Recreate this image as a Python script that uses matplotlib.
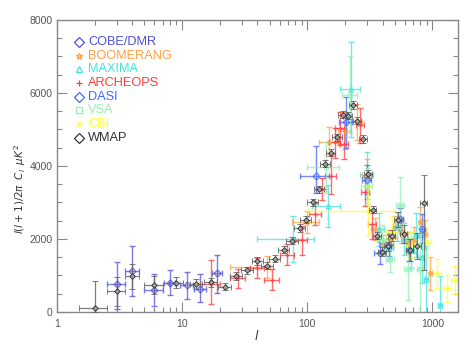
import matplotlib
matplotlib.use('Agg')
import matplotlib.pyplot as plt
from matplotlib.ticker import MultipleLocator, NullFormatter, FixedLocator

plt.rcParams['font.family'] = ['Liberation Sans', 'DejaVu Sans']
plt.rcParams['mathtext.fontset'] = 'dejavusans'

# ---------------- data ----------------
# COBE/DMR
cobe_l = [3, 4, 6, 8, 11, 14, 19]
cobe_v = [756, 1120, 592, 800, 737, 636, 1056]
cobe_ylo = [666, 692, 436, 344, 382, 370, 529]
cobe_yhi = [617, 690, 438, 338, 346, 394, 519]
cobe_xe = [0.5, 0.5, 1.0, 0.8, 1.3, 1.5, 1.8]

# BOOMERANG
boom_l = [48, 100, 150, 200, 250, 300, 350, 400, 450, 500, 570, 640, 708, 800, 873, 962]
boom_v = [1240, 2460, 4670, 4970, 5200, 3740, 2285, 1850, 2000, 2330, 2190, 1900, 1965, 2465, 2130, 1060]
boom_ye = [300, 300, 400, 500, 500, 450, 300, 250, 250, 300, 300, 300, 350, 400, 400, 450]
boom_xlo = [24, 25, 25, 25, 25, 25, 25, 25, 25, 25, 25, 25, 25, 25, 25, 25]
boom_xhi = [2, 25, 25, 25, 25, 25, 25, 25, 25, 25, 25, 25, 25, 25, 25, 25]

# MAXIMA
max_l = [77, 147, 223, 300, 374, 447, 523, 597, 670, 743, 818, 892, 1150]
max_v = [2000, 2900, 6100, 3740, 2260, 1750, 2350, 2000, 1700, 2100, 1500, 900, 190]
max_ye = [640, 580, 1300, 650, 450, 350, 400, 450, 500, 600, 700, 900, 800]
max_xe = [37, 37, 40, 37, 37, 37, 37, 37, 37, 37, 37, 37, 40]

# ARCHEOPS
arch_l = [17, 28, 40, 52, 69, 90, 116, 130, 154, 165, 183, 197, 265, 290, 330]
arch_v = [780, 920, 1210, 890, 1575, 1965, 2695, 3380, 3720, 4650, 5030, 4600, 5130, 3300, 2400]
arch_ylo = [560, 250, 270, 300, 300, 400, 300, 300, 500, 420, 450, 400, 500, 400, 400]
arch_yhi = [640, 270, 280, 300, 300, 400, 300, 300, 600, 400, 450, 400, 450, 400, 400]
arch_xe = [3, 4, 5, 7, 9, 10, 12, 12, 15, 15, 15, 15, 20, 20, 25]

# DASI
dasi_l = [118, 203, 300, 380, 450, 552, 645, 830]
dasi_v = [3720, 5200, 3620, 1620, 1830, 2540, 1710, 2285]
dasi_ylo = [470, 700, 400, 300, 300, 300, 300, 400]
dasi_yhi = [840, 700, 400, 300, 300, 300, 300, 400]
dasi_xe = [30, 25, 25, 40, 30, 30, 35, 40]

# VSA
vsa_l = [140, 220, 300, 395, 460, 552, 633, 800]
vsa_v = [3960, 5950, 3450, 1970, 1440, 2940, 1175, 1175]
vsa_ye = [700, 1050, 500, 400, 350, 750, 850, 1200]
vsa_xe = [40, 30, 30, 30, 35, 40, 40, 45]

# CBI
cbi_l = [303, 474, 670, 910, 1090, 1310, 1510]
cbi_v = [2770, 2200, 1830, 1920, 1060, 650, 870]
cbi_ye = [670, 400, 350, 400, 400, 370, 380]
cbi_xe = [202, 50, 60, 70, 80, 90, 100]

# WMAP
wmap_l = [2, 3, 4, 6, 9, 13, 17, 22, 27, 33, 40, 48, 55, 65, 76, 87, 98, 111, 125, 139,
          154, 173, 192, 210, 232, 251, 278, 305, 333, 362, 395, 438, 474, 529, 591, 657, 754, 851]
wmap_v = [100, 570, 975, 730, 800, 765, 810, 690, 985, 1140, 1400, 1265, 1460, 1710, 1950, 2300, 2530, 3000, 3360, 4060,
          4360, 4790, 5410, 5380, 5670, 5240, 4740, 3780, 2800, 2090, 1650, 1800, 2090, 2530, 2130, 1710, 1810, 2985]
wmap_ylo = [100, 400, 350, 250, 150, 130, 120, 100, 100, 100, 100, 100, 100, 100, 100, 100, 100, 100, 100, 100,
            100, 100, 100, 100, 100, 100, 100, 100, 100, 100, 120, 130, 150, 200, 250, 300, 350, 1835]
wmap_yhi = [750, 400, 330, 250, 150, 130, 120, 100, 100, 100, 100, 100, 100, 100, 100, 100, 100, 100, 100, 100,
            100, 100, 100, 100, 100, 100, 100, 100, 100, 100, 120, 130, 150, 200, 250, 300, 350, 755]
wmap_xe = [0.5, 0.5, 0.5, 1.0, 1.2, 1.5, 2, 2.5, 3, 3.5, 4, 5, 6, 7, 8, 9, 10, 11, 12, 13,
           14, 15, 16, 17, 18, 19, 20, 22, 24, 26, 28, 30, 32, 36, 40, 45, 50, 55]

names = ['COBE/DMR', 'BOOMERANG', 'MAXIMA', 'ARCHEOPS', 'DASI', 'VSA', 'CBI', 'WMAP']
colors = ['#5050d8', '#ffa040', '#40e4e4', '#ff3c3c', '#4466ff', '#90f0b4', '#ffff30', '#333333']
markers = ['D', '*', '^', '+', 'D', 's', 'x', 'D']

# ---------------- figure ----------------
fig = plt.figure(figsize=(4.75, 3.5), dpi=100)
ax = fig.add_axes([0.12, 0.1086, 0.8442, 0.8343])
ax.set_xscale('log')

def eb(l, v, ylo, yhi, xlo, xhi, color, marker, alpha=0.75, z=2):
    ax.errorbar(l, v, yerr=[ylo, yhi], xerr=[xlo, xhi], fmt=marker, ms=3.5,
                mfc='none', mec=color, ecolor=color, elinewidth=1.0, capsize=2,
                capthick=1.0, alpha=alpha, zorder=z)

eb(cobe_l, cobe_v, cobe_ylo, cobe_yhi, cobe_xe, cobe_xe, colors[0], markers[0])
eb(boom_l, boom_v, boom_ye, boom_ye, boom_xlo, boom_xhi, colors[1], markers[1])
eb(max_l, max_v, max_ye, max_ye, max_xe, max_xe, colors[2], markers[2])
eb(arch_l, arch_v, arch_ylo, arch_yhi, arch_xe, arch_xe, colors[3], markers[3])
eb(dasi_l, dasi_v, dasi_ylo, dasi_yhi, dasi_xe, dasi_xe, colors[4], markers[4])
eb(vsa_l, vsa_v, vsa_ye, vsa_ye, vsa_xe, vsa_xe, colors[5], markers[5])
eb(cbi_l, cbi_v, cbi_ye, cbi_ye, cbi_xe, cbi_xe, colors[6], markers[6])

ax.errorbar(wmap_l, wmap_v, yerr=[wmap_ylo, wmap_yhi], xerr=[wmap_xe, wmap_xe], fmt='D',
            ms=2.8, mfc='#aaaaaa', mec='#222222', mew=0.7, ecolor='#666666',
            elinewidth=0.9, capsize=2, capthick=0.9, alpha=0.85, zorder=5)

ax.set_xlim(1, 1600)
ax.set_ylim(0, 8000)

ax.xaxis.set_major_locator(FixedLocator([1, 10, 100, 1000]))
ax.set_xticklabels(['1', '10', '100', '1000'])
ax.xaxis.set_minor_formatter(NullFormatter())
ax.set_yticks([0, 2000, 4000, 6000, 8000])
ax.yaxis.set_minor_locator(MultipleLocator(500))

ax.tick_params(which='both', direction='in', top=True, right=True,
               color='#888888', labelcolor='#555555', labelsize=7.5)
ax.tick_params(which='major', length=7, width=0.8)
ax.tick_params(which='minor', length=3.5, width=0.8)
ax.tick_params(axis='x', pad=5)
ax.tick_params(axis='y', pad=3)
for s in ax.spines.values():
    s.set_color('#888888')
    s.set_linewidth(1.0)

# legend (manual, in axes coords)
for i, (n, c, m) in enumerate(zip(names, colors, markers)):
    y = 0.925 - i * 13.66 / 292
    ax.plot([0.055], [y], marker=m, ms=5, mfc='none', mec=c, mew=0.9,
            linestyle='none', transform=ax.transAxes, clip_on=False)
    ax.text(0.078, y, n, color=c, fontsize=9.2, va='center', ha='left',
            transform=ax.transAxes)

fig.text(257 / 475, 1 - 336 / 350, r'$l$', fontsize=9, color='#333333',
         ha='center', va='center')
fig.text(20 / 475, 1 - 189 / 350, r'$l(l+1)/2\pi\;\; C_l\;\; \mu K^2$',
         fontsize=7.5, color='#333333', rotation=90, ha='center', va='center')

fig.savefig('out.png', dpi=100)
